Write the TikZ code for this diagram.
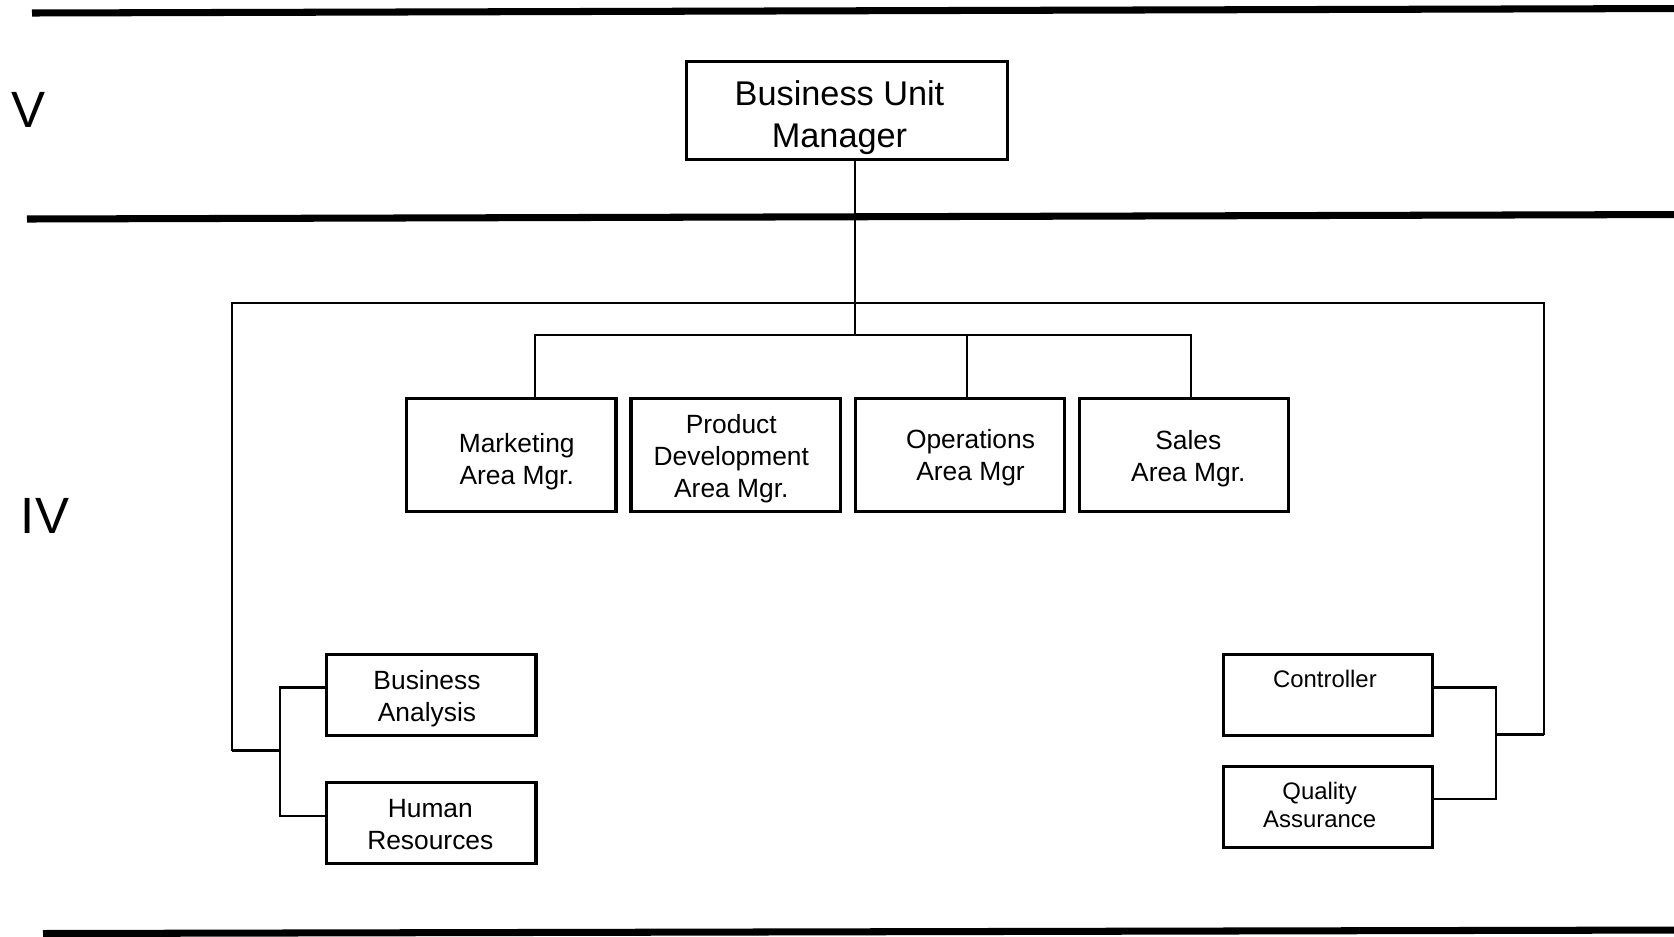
\documentclass[tikz,border=0pt]{standalone}
\usepackage{fontspec}
\setmainfont{Liberation Sans}
\tikzset{
	hop/.style={draw, line width=0.9pt, inner sep=0pt},
	hoplon/.style={hop, minimum width=3.213cm, minimum height=0.972cm},
	hopvua/.style={hop, minimum width=2.092cm, minimum height=1.132cm},
	hopnho/.style={hop, minimum width=2.092cm, minimum height=0.812cm},
	chu/.style={align=center, inner sep=0pt},
	chulon/.style={chu, font=\fontsize{9.75}{12.1}\selectfont},
	chuvua/.style={chu, font=\fontsize{7.5}{9.1}\selectfont},
	chube/.style={chu, font=\fontsize{6.8}{8.2}\selectfont},
	capdo/.style={inner sep=0pt, font=\fontsize{14.5}{17}\selectfont},
	noi/.style={line width=0.6pt},
	vach/.style={line width=2pt}
}
\begin{document}
\begin{tikzpicture}[x=0.01cm, y=-0.01cm]
	\useasboundingbox (0,0) rectangle (1674,936);
	%	vạch ngang
	\draw[vach] (32,13) -- (1690,8.5);
	\draw[vach] (27,219) -- (1690,214.5);
	\draw[vach] (43,933.5) -- (1690,930);
	%	cấp
	\node[capdo] (v) at (29,110) {V};
	\node[capdo] (iv) at (45,516) {IV};
	%	hộp
	\node[hoplon, label={[chulon, shift={(-7.5,7)}]center:Business Unit\\Manager}] (bum) at (847,110.5) {};
	\node[hopvua, label={[chuvua, shift={(5.3,6.4)}]center:Marketing\\Area Mgr.}] (mkt) at (511.4,454.8) {};
	\node[hopvua, label={[chuvua, shift={(-4.3,4.3)}]center:Product\\Development\\Area Mgr.}] (pd) at (735.6,454.8) {};
	\node[hopvua, label={[chuvua, shift={(10.7,3.2)}]center:Operations\\Area Mgr}] (ops) at (959.8,454.8) {};
	\node[hopvua, label={[chuvua, shift={(4.3,4.3)}]center:Sales\\Area Mgr.}] (sales) at (1184,454.8) {};
	\node[hopnho, label={[chuvua, shift={(-4.3,3.2)}]center:Business\\Analysis}] (ba) at (431.3,695) {};
	\node[hopnho, label={[chuvua, shift={(-1,1)}]center:Human\\Resources}] (hr) at (431.3,823.1) {};
	\node[hopnho, label={[chube, shift={(-3.2,-2.1)}]center:Controller\\~}] (ctrl) at (1328.1,695) {};
	\node[hopnho, label={[chube, shift={(-8.5,-2.1)}]center:Quality\\Assurance}] (qa) at (1328.1,807.1) {};
	%	nối
	\coordinate (jA) at (855,303.2);
	\coordinate (jB) at (855,335.2);
	\coordinate (lfoot) at (231.7,750.5);
	\coordinate (rfoot) at (1543.7,734.5);
	\coordinate (lbus) at (279.7,750.5);
	\coordinate (rbus) at (1495.7,734.5);
	\draw[noi] (bum.south -| jB) -- (jB);
	\draw[noi] (lfoot) |- (jA) -| (rfoot);
	\draw[noi] ([xshift=0.235cm]mkt.north) |- (jB) -| ([xshift=0.074cm]sales.north);
	\draw[noi] (jB) -| ([xshift=0.074cm]ops.north);
	\draw[noi] (lfoot) -- (lbus);
	\draw[noi] ([yshift=0.075cm]ba.west) -| (lbus) |- ([yshift=0.075cm]hr.west);
	\draw[noi] (rbus) -- (rfoot);
	\draw[noi] ([yshift=0.075cm]ctrl.east) -| (rbus) |- ([yshift=0.084cm]qa.east);
\end{tikzpicture}
\end{document}
